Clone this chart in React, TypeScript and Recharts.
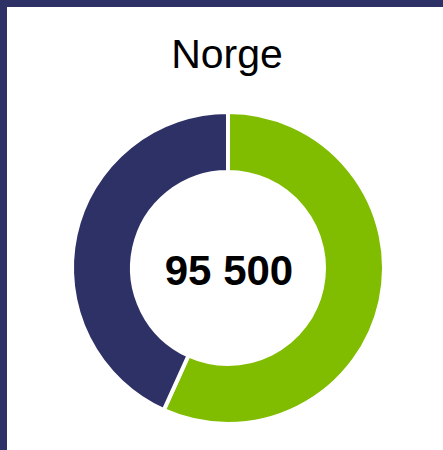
import { PieChart, Pie, Cell } from "recharts";

const title = "Norge";
const categories = ["Gruppe A", "Gruppe B"];
const values = [54200, 41300];
const colors = ["#80BC00", "#2E3166"];

const data = categories.map((name, i) => ({ name, value: values[i] }));
const total = values.reduce((a, v) => a + v, 0);
const fmt = (n: number) => String(n).replace(/\B(?=(\d{3})+(?!\d))/g, " ");

export default function App() {
  return (
    <div
      style={{
        position: "absolute",
        left: 0,
        top: 0,
        width: 443,
        height: 450,
        background: "#fff",
        overflow: "hidden",
        fontFamily: "'Liberation Sans', Arial, sans-serif",
      }}
    >
      <div style={{ position: "absolute", left: 0, top: 0, width: 443, height: 7, background: "#2E3166" }} />
      <div style={{ position: "absolute", left: 0, top: 0, width: 7, height: 450, background: "#2E3166" }} />
      <div style={{ position: "absolute", left: 0, top: 0 }}>
        <PieChart width={443} height={450} margin={{ top: 0, right: 0, bottom: 0, left: 0 }}>
          <Pie
            data={data}
            dataKey="value"
            cx={228}
            cy={268}
            innerRadius={96}
            outerRadius={156}
            startAngle={90}
            endAngle={-270}
            stroke="#fff"
            strokeWidth={4}
            isAnimationActive={false}
          >
            {data.map((d, i) => (
              <Cell key={d.name} fill={colors[i]} />
            ))}
          </Pie>
        </PieChart>
      </div>
      <svg width={443} height={450} style={{ position: "absolute", left: 0, top: 0, pointerEvents: "none" }}>
        <text x={227} y={68} textAnchor="middle" fontSize={41} fill="#000">
          {title}
        </text>
        <text x={229} y={285} textAnchor="middle" fontSize={42} fontWeight="bold" fill="#000">
          {fmt(total)}
        </text>
      </svg>
    </div>
  );
}
